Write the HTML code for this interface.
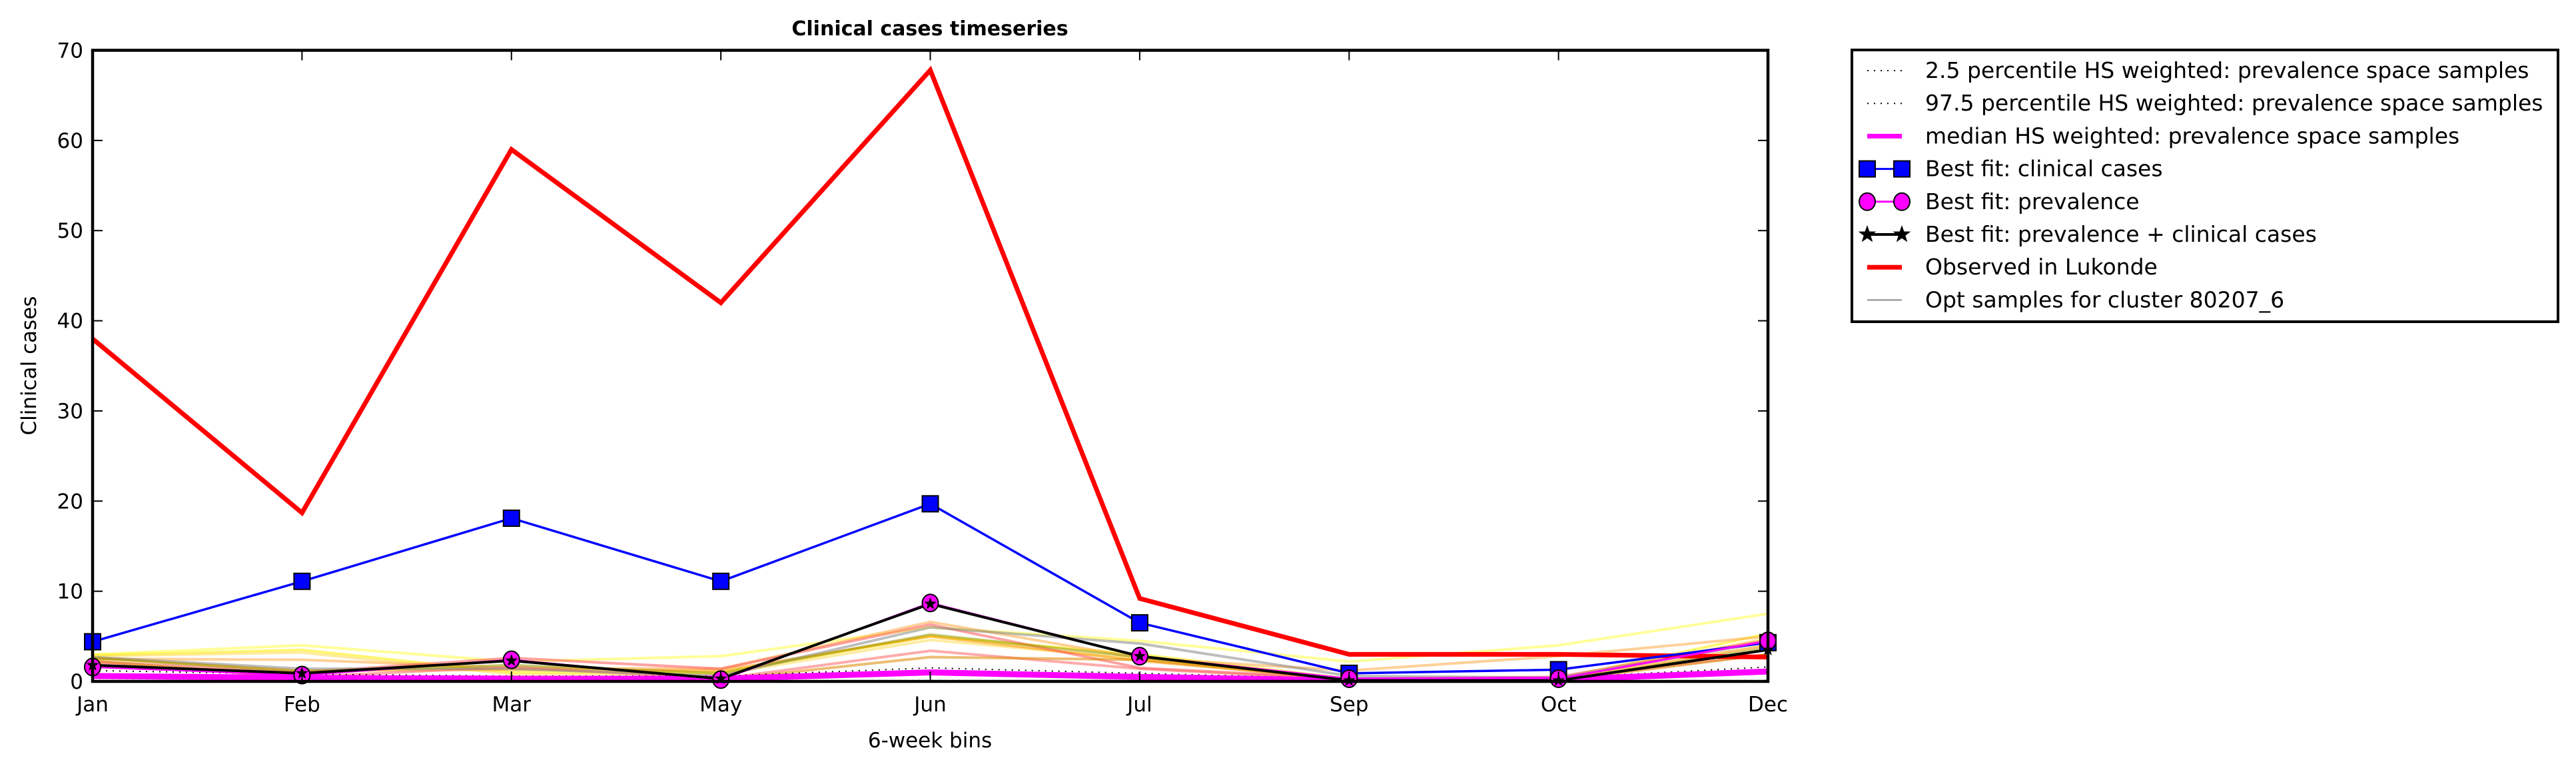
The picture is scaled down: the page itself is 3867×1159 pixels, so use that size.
<!DOCTYPE html>
<html><head><meta charset="utf-8"><style>
html,body{margin:0;padding:0;background:#fff;}
svg{display:block;font-family:"DejaVu Sans","Liberation Sans",sans-serif;}
</style></head><body>
<svg id="chart" width="3867" height="1159" viewBox="0 0 3867 1159">
<text x="1396" y="53" font-size="30" font-weight="bold" text-anchor="middle">Clinical cases timeseries</text>
<g id="plot"></g>
<g id="axes"></g>
<text x="1396" y="1122" font-size="31" text-anchor="middle">6-week bins</text>
<text transform="translate(54,549) rotate(-90)" font-size="31" text-anchor="middle">Clinical cases</text>
<g id="legend"></g>
</svg>
<script>
const categories=["Jan","Feb","Mar","May","Jun","Jul","Sep","Oct","Dec"];
const yTicks=[0,10,20,30,40,50,60,70];
const observed=[38,18.7,59,42,67.8,9.2,3,3,2.7];
const bestClinical=[4.4,11.1,18.1,11.1,19.7,6.5,0.9,1.3,4.3];
const bestPrevalence=[1.6,0.7,2.4,0.2,8.7,2.8,0.3,0.3,4.5];
const bestBoth=[1.8,0.9,2.3,0.3,8.6,2.8,0.1,0.1,3.5];
const medianHS=[0.6,0.4,0.3,0.3,1.0,0.5,0.1,0.2,1.1];
const p025=[0.1,0.05,0.05,0.05,0.1,0.05,0,0,0.1];
const p975=[1.2,0.8,0.6,0.6,1.5,0.9,0.3,0.4,1.6];
const opt1=[3.0,4.0,2.2,2.8,6.0,4.5,2.2,4.0,7.5];
const opt2=[2.9,3.5,1.0,1.0,5.0,3.0,0.3,0.3,5.3];
const opt3=[2.8,3.2,0.8,0.8,4.6,2.5,0.2,0.2,4.8];
const opt4=[2.5,2.4,1.5,1.4,6.6,2.6,1.2,2.8,5.0];
const opt5=[2.6,1.2,1.3,1.2,5.0,2.3,0.2,0.2,4.0];
const opt6=[2.2,1.0,2.6,1.4,6.3,1.5,0.3,0.5,4.6];
const opt7=[2.0,0.5,1.6,0.3,3.4,1.4,0.2,0.3,3.0];
const opt8=[2.7,1.4,1.4,0.6,6.0,4.2,0.6,0.4,4.4];
const opt9=[2.6,1.1,1.8,0.9,5.2,2.7,0.2,0.1,3.7];
const opt10=[2.3,0.4,0.5,0.2,2.7,2.4,0.2,0.1,3.0];
const optSeries=[opt1,opt2,opt3,opt4,opt5,opt6,opt7,opt8,opt9,opt10];
const optColors=["#ffff44","#ffee00","#ffdd55","#ffaa44","#ff9900","#ff5555","#ff6666","#888888","#999900","#dd8800"];
const L=139,R=2654,T=75.5,B=1023;
const xs=i=>L+(R-L)*i/(categories.length-1);
const ys=v=>B-(B-T)*v/70;
const NS="http://www.w3.org/2000/svg";
function mk(tag,attrs,parent){const e=document.createElementNS(NS,tag);for(const k in attrs)e.setAttribute(k,attrs[k]);parent.appendChild(e);return e;}
const plot=document.getElementById('plot'),axes=document.getElementById('axes'),leg=document.getElementById('legend');
function pts(arr){return arr.map((v,i)=>xs(i)+','+ys(v)).join(' ');}
const cp=mk('clipPath',{id:'clip'},plot);
mk('rect',{x:L,y:T,width:R-L,height:B-T},cp);
const g=mk('g',{'clip-path':'url(#clip)'},plot);
optSeries.forEach((s,k)=>{
 const l=mk('polyline',{points:pts(s),fill:'none',stroke:optColors[k],'stroke-width':4,'stroke-opacity':0.55},g);
 
 
});
[p025,p975].forEach(s=>{
 const l=mk('polyline',{points:pts(s),fill:'none',stroke:'#000','stroke-width':2,'stroke-dasharray':'2 8'},g);
 
 
});
let m=mk('polyline',{points:pts(medianHS),fill:'none',stroke:'#ff00ff','stroke-width':9},g);


let ob=mk('polyline',{points:pts(observed),fill:'none',stroke:'#ff0000','stroke-width':7,'stroke-linejoin':'miter'},g);


let bc=mk('polyline',{points:pts(bestClinical),fill:'none',stroke:'#0000ff','stroke-width':3.5},g);


bestClinical.forEach((v,i)=>{const r=mk('rect',{x:xs(i)-12,y:ys(v)-12,width:24,height:24,fill:'#0000ff',stroke:'#000','stroke-width':2},plot);
 
 });
let bp=mk('polyline',{points:pts(bestPrevalence),fill:'none',stroke:'#ff00ff','stroke-width':3},g);


let bb=mk('polyline',{points:pts(bestBoth),fill:'none',stroke:'#000','stroke-width':4},g);


bestPrevalence.forEach((v,i)=>{const c=mk('ellipse',{cx:xs(i),cy:ys(v),rx:12,ry:13,fill:'#ff00ff',stroke:'#000','stroke-width':2},plot);
 
 });
function star(cx,cy,r){let p=[];for(let k=0;k<10;k++){const a=-Math.PI/2+k*Math.PI/5,rr=k%2?r*0.4:r;p.push((cx+rr*Math.cos(a))+','+(cy+rr*Math.sin(a)));}return p.join(' ');}
bestBoth.forEach((v,i)=>{const s=mk('polygon',{points:star(xs(i),ys(v),10),fill:'#000'},plot);
 
 });
mk('rect',{x:L,y:T,width:R-L,height:B-T,fill:'none',stroke:'#000','stroke-width':4.5},axes);
yTicks.forEach(v=>{const y=ys(v);
 mk('line',{x1:L,x2:L+15,y1:y,y2:y,stroke:'#000','stroke-width':2},axes);
 mk('line',{x1:R,x2:R-15,y1:y,y2:y,stroke:'#000','stroke-width':2},axes);
 const t=mk('text',{x:L-14,y:y+11,'font-size':31,'text-anchor':'end'},axes);t.textContent=v;
 
 });
categories.forEach((c,i)=>{const x=xs(i);
 mk('line',{x1:x,x2:x,y1:B,y2:B-15,stroke:'#000','stroke-width':2},axes);
 mk('line',{x1:x,x2:x,y1:T,y2:T+15,stroke:'#000','stroke-width':2},axes);
 const t=mk('text',{x:x,y:B+45,'font-size':31,'text-anchor':'middle'},axes);t.textContent=c;
 
 });
mk('rect',{x:2780,y:75,width:3840-2780,height:408,fill:'#fff',stroke:'#000','stroke-width':4},leg);
const labels=["2.5 percentile HS weighted: prevalence space samples","97.5 percentile HS weighted: prevalence space samples","median HS weighted: prevalence space samples","Best fit: clinical cases","Best fit: prevalence","Best fit: prevalence + clinical cases","Observed in Lukonde","Opt samples for cluster 80207_6"];
labels.forEach((lb,k)=>{const y=106+k*49.2;const hx1=2803,hx2=2855;
 if(k<2)mk('line',{x1:hx1,x2:hx2,y1:y,y2:y,stroke:'#000','stroke-width':2,'stroke-dasharray':'2 8'},leg);
 if(k==2)mk('line',{x1:hx1,x2:hx2,y1:y,y2:y,stroke:'#ff00ff','stroke-width':7},leg);
 if(k==3){mk('line',{x1:hx1,x2:hx2,y1:y,y2:y,stroke:'#0000ff','stroke-width':3},leg);[hx1,hx2].forEach(x=>mk('rect',{x:x-12,y:y-12,width:24,height:24,fill:'#0000ff',stroke:'#000','stroke-width':2},leg));}
 if(k==4){mk('line',{x1:hx1,x2:hx2,y1:y,y2:y,stroke:'#ff00ff','stroke-width':3},leg);[hx1,hx2].forEach(x=>mk('ellipse',{cx:x,cy:y,rx:12,ry:13,fill:'#ff00ff',stroke:'#000','stroke-width':2},leg));}
 if(k==5){mk('line',{x1:hx1,x2:hx2,y1:y,y2:y,stroke:'#000','stroke-width':4},leg);[hx1,hx2].forEach(x=>mk('polygon',{points:star(x,y,14),fill:'#000'},leg));}
 if(k==6)mk('line',{x1:hx1,x2:hx2,y1:y,y2:y,stroke:'#ff0000','stroke-width':7},leg);
 if(k==7)mk('line',{x1:hx1,x2:hx2,y1:y,y2:y,stroke:'#888','stroke-width':2},leg);
 const t=mk('text',{x:2890,y:y+11,'font-size':33},leg);t.textContent=lb;
 
 });
</script>
</body></html>
